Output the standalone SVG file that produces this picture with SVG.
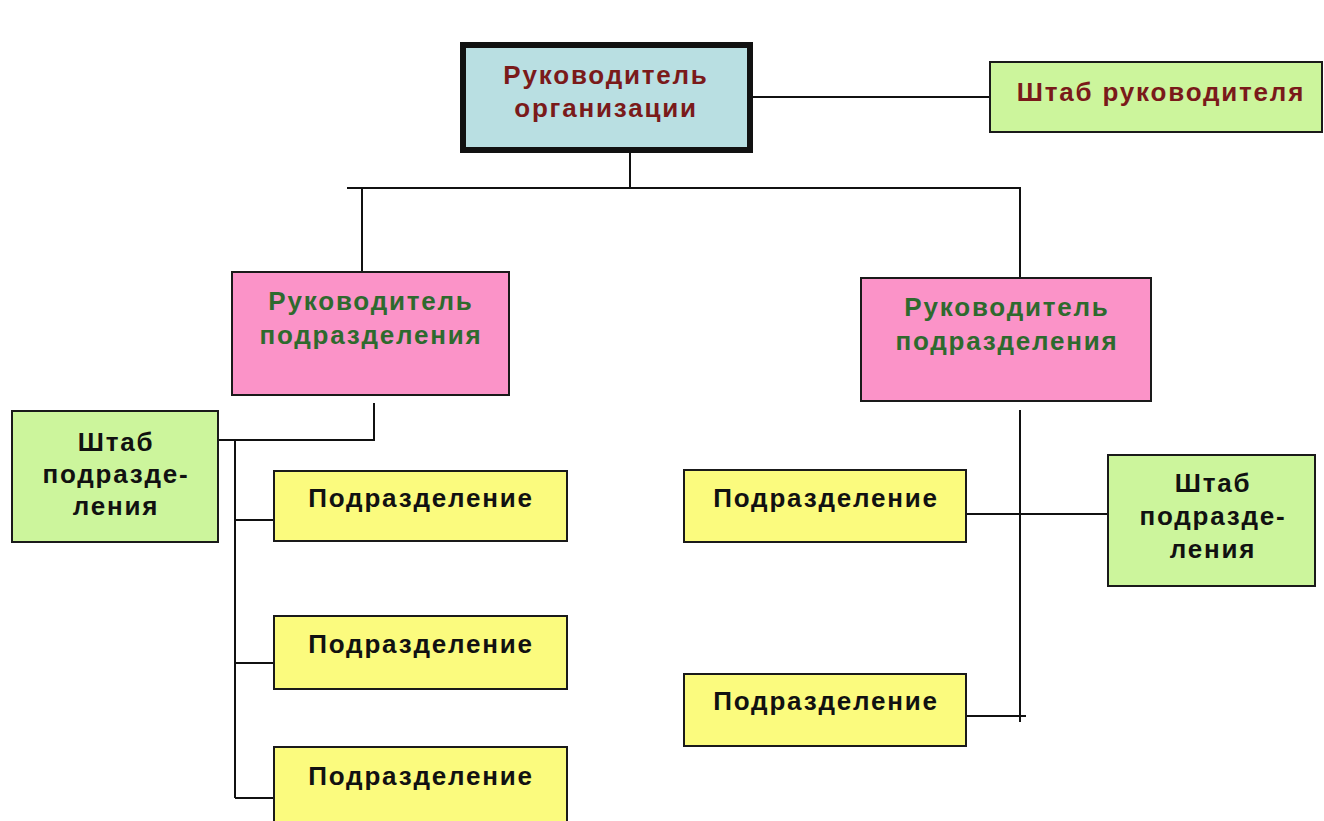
<svg xmlns="http://www.w3.org/2000/svg" width="1324" height="821" viewBox="0 0 1324 821">
<style>
.box{stroke:#1a1a1a;stroke-width:2}
.t{font-family:"Liberation Sans",Arial,sans-serif;font-weight:bold;font-size:26px;letter-spacing:1.8px;text-anchor:middle}
.red{fill:#7a1a1a}
.grn{fill:#2e6a2e}
.blk{fill:#111}
.ln{stroke:#111;stroke-width:2;fill:none}
</style>
<rect width="1324" height="821" fill="#fff"/>
<g id="connectors">
<line class="ln" x1="751" y1="97" x2="990" y2="97"/>
<line class="ln" x1="630" y1="152" x2="630" y2="187"/>
<line class="ln" x1="347" y1="188" x2="1021" y2="188"/>
<line class="ln" x1="362" y1="188" x2="362" y2="272"/>
<line class="ln" x1="1020" y1="188" x2="1020" y2="278"/>
<polyline class="ln" points="218,440 374,440 374,403"/>
<line class="ln" x1="235" y1="440" x2="235" y2="798"/>
<line class="ln" x1="235" y1="520" x2="274" y2="520"/>
<line class="ln" x1="235" y1="663" x2="274" y2="663"/>
<line class="ln" x1="235" y1="798" x2="274" y2="798"/>
<line class="ln" x1="1020" y1="410" x2="1020" y2="722"/>
<line class="ln" x1="960" y1="514" x2="1108" y2="514"/>
<line class="ln" x1="966" y1="716" x2="1026" y2="716"/>
</g>
<g id="ceo">
<rect x="463" y="45" width="287" height="105" fill="#b9dfe2" stroke="#111" stroke-width="6"/>
<text class="t red" x="606" y="84">Руководитель</text>
<text class="t red" x="606" y="117">организации</text>
</g>
<g id="ceo-staff">
<rect class="box" x="990" y="62" width="332" height="70" fill="#ccf59c"/>
<text class="t red" x="1161" y="101">Штаб руководителя</text>
</g>
<g id="head-left">
<rect class="box" x="232" y="272" width="277" height="123" fill="#fb93c8"/>
<text class="t grn" x="371" y="310">Руководитель</text>
<text class="t grn" x="371" y="344">подразделения</text>
</g>
<g id="head-right">
<rect class="box" x="861" y="278" width="290" height="123" fill="#fb93c8"/>
<text class="t grn" x="1007" y="316">Руководитель</text>
<text class="t grn" x="1007" y="350">подразделения</text>
</g>
<g id="staff-left">
<rect class="box" x="12" y="411" width="206" height="131" fill="#ccf59c"/>
<text class="t blk" x="116" y="451">Штаб</text>
<text class="t blk" x="116" y="483">подразде-</text>
<text class="t blk" x="116" y="515">ления</text>
</g>
<g id="unit-l1">
<rect class="box" x="274" y="471" width="293" height="70" fill="#fbfb7e"/>
<text class="t blk" x="421" y="507">Подразделение</text>
</g>
<g id="unit-l2">
<rect class="box" x="274" y="616" width="293" height="73" fill="#fbfb7e"/>
<text class="t blk" x="421" y="653">Подразделение</text>
</g>
<g id="unit-l3">
<rect class="box" x="274" y="747" width="293" height="80" fill="#fbfb7e"/>
<text class="t blk" x="421" y="785">Подразделение</text>
</g>
<g id="unit-r1">
<rect class="box" x="684" y="470" width="282" height="72" fill="#fbfb7e"/>
<text class="t blk" x="826" y="507">Подразделение</text>
</g>
<g id="unit-r2">
<rect class="box" x="684" y="674" width="282" height="72" fill="#fbfb7e"/>
<text class="t blk" x="826" y="710">Подразделение</text>
</g>
<g id="staff-right">
<rect class="box" x="1108" y="455" width="207" height="131" fill="#ccf59c"/>
<text class="t blk" x="1213" y="492">Штаб</text>
<text class="t blk" x="1213" y="525">подразде-</text>
<text class="t blk" x="1213" y="558">ления</text>
</g>
</svg>
